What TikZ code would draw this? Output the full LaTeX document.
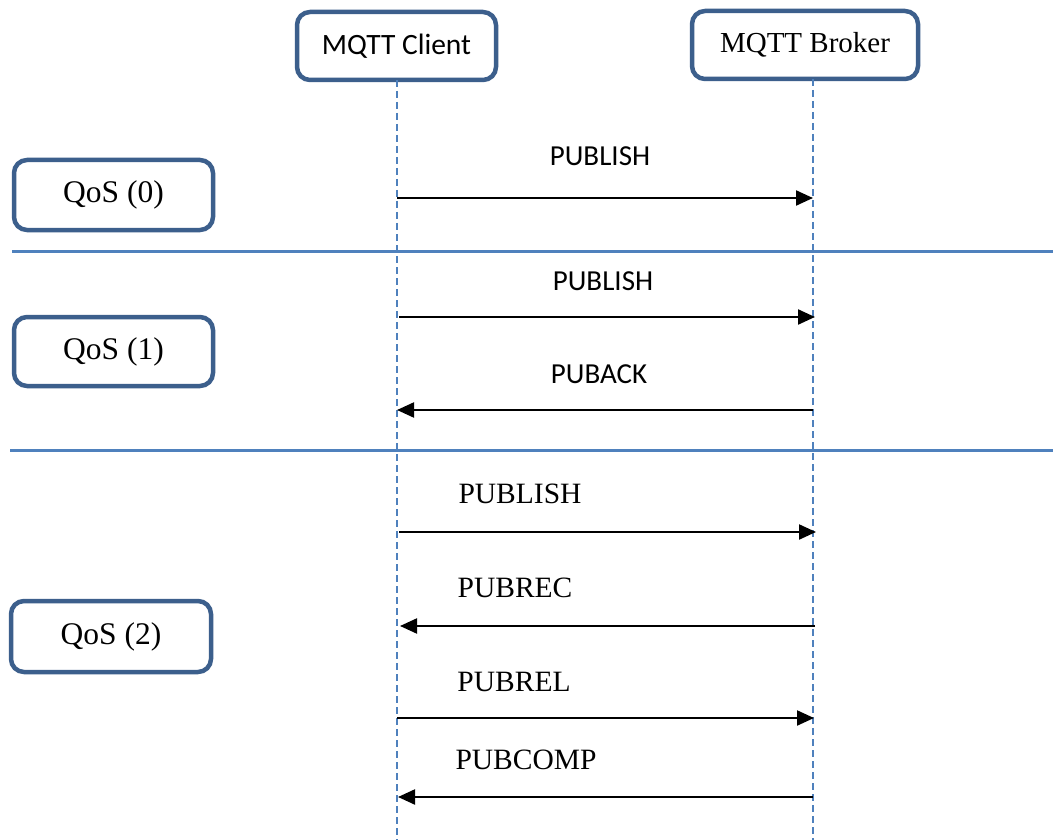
\documentclass[tikz,border=0pt]{standalone}
\usepackage{fontspec}
\setmainfont{Liberation Serif}
\newfontfamily\calfont{Carlito}
\usetikzlibrary{arrows.meta}
\definecolor{boxblue}{RGB}{60,95,140}
\definecolor{lineblue}{RGB}{79,129,189}
\begin{document}
\begin{tikzpicture}[x=1pt,y=-1pt,
  box/.style={draw=boxblue,line width=4.5pt,rounded corners=13pt,fill=white,inner sep=0pt,outer sep=0pt,align=center},
  life/.style={draw=lineblue,line width=1.8pt,dash pattern=on 7pt off 4pt},
  sep/.style={draw=lineblue,line width=3pt},
  msg/.style={draw=black,line width=2.2pt,-{Triangle[length=17pt,width=15pt]}},
  cal/.style={font=\calfont\fontsize{29}{34}\selectfont,anchor=base,inner sep=0pt},
  tms/.style={font=\fontsize{29.5}{34}\selectfont,anchor=base,inner sep=0pt}]
\useasboundingbox (0,0) rectangle (1053,840);
\fill[white] (0,0) rectangle (1053,840);
% lifeline ends
\coordinate (cl) at (397,840);
\coordinate (bl) at (813,840);
% separators
\coordinate (s1a) at (12,251); \coordinate (s1b) at (1053,251);
\coordinate (s2a) at (10,450); \coordinate (s2b) at (1053,450);
\draw[sep] (s1a) -- (s1b);
\draw[sep] (s2a) -- (s2b);
% header boxes
\node[box,minimum width=199pt,minimum height=68pt,font=\calfont\fontsize{29.5}{34}\selectfont] (client) at (396.5,46) {MQTT Client};
\node[box,minimum width=226pt,minimum height=68pt,font=\fontsize{29}{34}\selectfont] (broker) at (805,45) {MQTT Broker};
\draw[life] (client.south -| cl) -- (cl);
\draw[life] (broker.south -| bl) -- (bl);
% QoS boxes
\node[box,minimum width=199pt,minimum height=70pt,font=\fontsize{31.5}{36}\selectfont] (q0) at (113.5,195) {QoS (0)};
\node[box,minimum width=199pt,minimum height=69pt,font=\fontsize{31.5}{36}\selectfont] (q1) at (113.5,351.5) {QoS (1)};
\node[box,minimum width=200pt,minimum height=71pt,font=\fontsize{31.5}{36}\selectfont] (q2) at (111,636.5) {QoS (2)};
% message endpoints
\coordinate (a1) at (397,198); \coordinate (b1) at (813,198);
\coordinate (a2) at (399,317); \coordinate (b2) at (815,317);
\coordinate (a3) at (397,410); \coordinate (b3) at (813,410);
\coordinate (a4) at (399,532); \coordinate (b4) at (816,532);
\coordinate (a5) at (400,626); \coordinate (b5) at (815,626);
\coordinate (a6) at (397,718); \coordinate (b6) at (814,718);
\coordinate (a7) at (398,797); \coordinate (b7) at (813,797);
\draw[msg] (a1) -- (b1);
\draw[msg] (a2) -- (b2);
\draw[msg] (b3) -- (a3);
\draw[msg] (a4) -- (b4);
\draw[msg] (b5) -- (a5);
\draw[msg] (a6) -- (b6);
\draw[msg] (b7) -- (a7);
% labels
\node[cal] (l1) at (600,166) {PUBLISH};
\node[cal] (l2) at (603,290) {PUBLISH};
\node[cal] (l3) at (599,383) {PUBACK};
\node[tms] (l4) at (520,503) {PUBLISH};
\node[tms] (l5) at (515,597) {PUBREC};
\node[tms] (l6) at (514,691) {PUBREL};
\node[tms] (l7) at (526,769) {PUBCOMP};
\end{tikzpicture}
\end{document}
